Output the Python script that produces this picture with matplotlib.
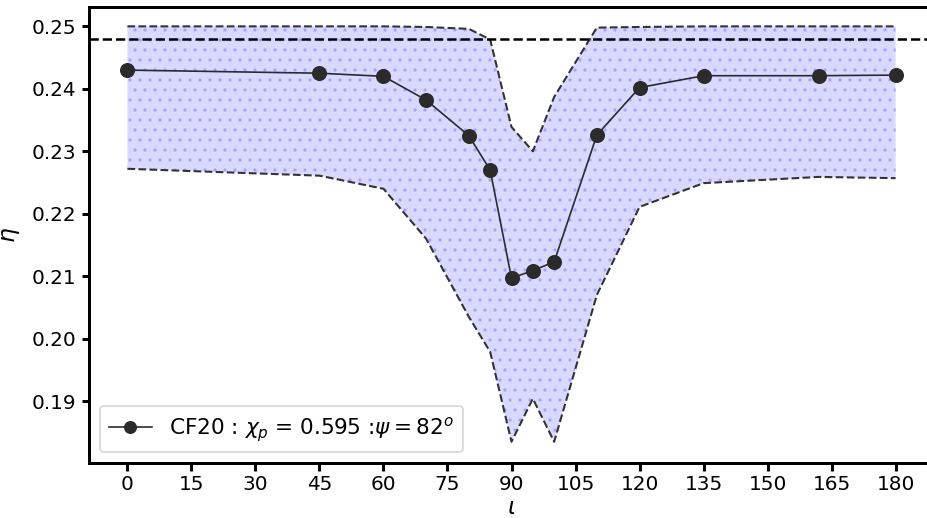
#!/usr/bin/env python3

"""
plotEfficiency.py
"""

import matplotlib
matplotlib.use("Agg")
import matplotlib.pyplot as plt

# inclination (deg) and efficiency for CF20
iota = [0, 45, 60, 70, 80, 85, 90, 95, 100, 110, 120, 135, 162, 180]
eta = [0.2430, 0.2425, 0.2420, 0.2382, 0.2325, 0.2270, 0.2097, 0.2109,
       0.2123, 0.2326, 0.2402, 0.2421, 0.2421, 0.2422]
etaUpper = [0.2500, 0.2500, 0.2500, 0.2499, 0.2496, 0.2479, 0.2339, 0.2300,
            0.2387, 0.2498, 0.2499, 0.2500, 0.2500, 0.2500]
etaLower = [0.2272, 0.2261, 0.2240, 0.2160, 0.2035, 0.1979, 0.1835, 0.1904,
            0.1835, 0.2070, 0.2211, 0.2249, 0.2259, 0.2257]
etaRef = 0.248

xTicks = list(range(0, 181, 15))
yTicks = [0.19, 0.20, 0.21, 0.22, 0.23, 0.24, 0.25]
legendLabel = r"CF20 : $\chi_p$ = 0.595 :$\psi=82^o$"


def plotEta():
    dpi = 120
    fig = plt.figure(figsize=(927 / dpi, 518 / dpi), dpi=dpi)
    ax = fig.add_axes([89 / 927, 55 / 518, 845 / 927, 456 / 518])

    ax.fill_between(iota, etaLower, etaUpper, color="blue", alpha=0.15,
                    hatch="..", linewidth=0)
    ax.plot(iota, etaUpper, "--", color="#333333", lw=1.25)
    ax.plot(iota, etaLower, "--", color="#333333", lw=1.25)
    ax.axhline(etaRef, color="k", ls="--", lw=1.5)
    ax.plot(iota, eta, "-o", color="#2b2b2b", lw=1.0, markersize=8,
            label=legendLabel)

    ax.set_xlim(-9, 189)
    ax.set_ylim(0.1801, 0.2531)
    ax.set_xticks(xTicks)
    ax.set_yticks(yTicks)
    ax.set_yticklabels(["%.2f" % t for t in yTicks])
    ax.tick_params(labelsize=12, length=4.5, width=1.8, pad=3)
    for sp in ax.spines.values():
        sp.set_linewidth(1.8)

    ax.set_xlabel(r"$\iota$", fontsize=14, labelpad=1)
    ax.set_ylabel(r"$\eta$", fontsize=14, labelpad=6)
    ax.legend(loc="lower left", fontsize=13, markerscale=0.85)

    fig.savefig("out.png", dpi=dpi)


def main():
    plotEta()


if __name__ == "__main__":
    main()
